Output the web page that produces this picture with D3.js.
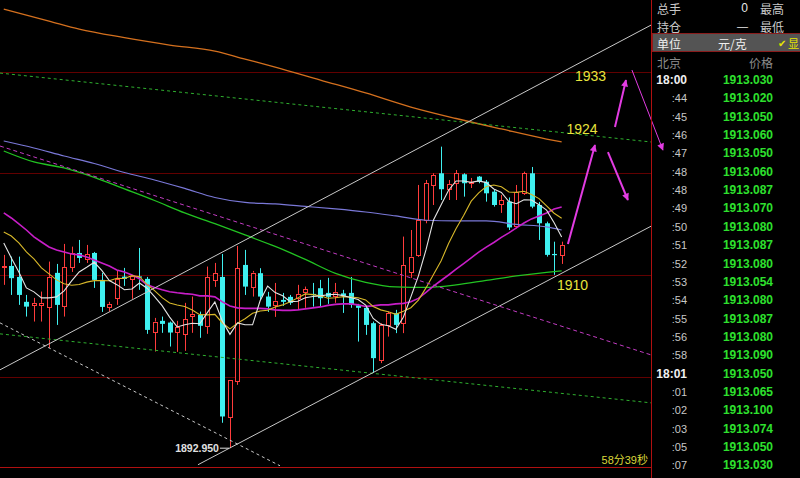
<!DOCTYPE html>
<html><head><meta charset="utf-8">
<script src="https://cdn.jsdelivr.net/npm/d3@7/dist/d3.min.js"></script>
<style>
html,body{margin:0;padding:0;background:#000;overflow:hidden;}
svg{display:block;}
</style></head><body>
<svg id="c" width="800" height="478"></svg>
<script>
// ---------- DATA ----------
const candleOpen = [1910.79,1910.88,1909.80,1907.35,1907.05,1907.05,1906.85,1910.20,1906.95,1910.82,
1912.16,1911.57,1912.16,1909.51,1906.85,1907.74,1909.83,1909.61,1909.85,1909.61,
1904.42,1905.48,1905.31,1904.42,1904.20,1905.97,1906.07,1904.99,1909.51,1909.80,
1896.07,1899.51,1910.98,1908.85,1910.17,1907.87,1907.05,1907.54,1907.84,1907.74,
1908.23,1908.13,1908.69,1908.23,1907.89,1908.18,1908.23,1907.00,1906.76,1905.25,
1901.64,1905.08,1906.23,1905.25,1910.29,1911.97,1915.41,1918.85,1920.00,1918.46,
1919.02,1919.90,1919.05,1919.67,1919.17,1918.19,1916.98,1917.21,1914.75,1918.03,
1920.00,1916.88,1915.08,1912.06,1911.97];
const candleClose = [1910.88,1909.68,1908.03,1906.88,1907.25,1907.25,1909.80,1907.05,1910.79,1912.16,
1911.67,1912.06,1909.51,1906.85,1907.15,1909.61,1909.61,1909.90,1909.75,1904.59,
1905.41,1905.18,1904.33,1904.89,1905.64,1906.17,1904.99,1909.80,1910.20,1896.07,
1899.68,1910.66,1908.85,1910.23,1907.87,1906.88,1907.47,1907.35,1907.25,1908.13,
1908.57,1908.03,1907.71,1907.84,1908.33,1907.94,1907.05,1906.76,1905.08,1901.81,
1905.08,1906.23,1905.08,1910.98,1911.80,1915.41,1919.02,1919.83,1918.43,1918.95,
1920.00,1919.02,1919.14,1919.17,1918.03,1916.88,1917.33,1914.67,1918.11,1920.00,
1916.72,1915.08,1911.97,1911.97,1912.95];
const candleHigh = [1911.97,1911.80,1911.80,1908.03,1907.74,1908.36,1911.31,1911.08,1913.05,1912.78,
1913.44,1912.95,1912.26,1910.20,1907.35,1910.39,1910.69,1910.00,1912.65,1909.80,
1905.77,1905.90,1905.41,1905.48,1907.25,1907.87,1906.39,1910.82,1911.18,1912.06,
1899.68,1912.85,1912.46,1910.39,1910.66,1908.33,1909.21,1908.23,1908.03,1909.02,
1908.85,1909.21,1909.51,1909.71,1909.21,1908.53,1909.80,1907.15,1906.88,1905.41,
1905.25,1906.39,1906.56,1913.77,1914.42,1918.85,1919.34,1920.00,1922.62,1919.34,
1920.32,1920.00,1919.54,1919.73,1919.34,1918.36,1917.87,1917.62,1918.85,1920.16,
1920.62,1917.18,1915.24,1913.27,1913.27];
const candleLow = [1909.02,1908.03,1907.05,1905.90,1905.41,1905.41,1902.82,1905.08,1905.90,1910.29,
1911.18,1911.18,1908.72,1906.36,1906.39,1907.05,1908.92,1907.64,1908.53,1904.20,
1902.46,1904.30,1902.95,1902.43,1902.53,1904.30,1903.81,1904.20,1908.82,1895.45,
1892.95,1899.18,1908.03,1907.87,1907.54,1906.36,1905.87,1906.95,1907.05,1906.56,
1906.76,1906.88,1906.88,1907.15,1907.25,1906.26,1906.76,1903.44,1904.10,1900.36,
1901.32,1903.93,1904.27,1904.27,1909.71,1911.77,1915.08,1916.88,1917.37,1917.37,
1917.37,1917.70,1918.55,1919.02,1917.21,1916.72,1916.10,1914.42,1914.57,1917.87,
1916.56,1913.44,1911.80,1910.00,1911.08];

// moving averages (one value per candle)
const maWhite = [1913.15,1911.67,1910.29,1908.72,1908.33,1907.74,1907.74,1907.84,1908.43,1909.41,
1910.29,1910.75,1911.24,1910.45,1909.45,1909.04,1908.54,1908.62,1909.20,1908.69,
1907.86,1906.97,1905.85,1904.88,1905.09,1905.24,1905.20,1906.29,1907.35,1905.45,
1904.15,1905.28,1905.09,1905.09,1907.45,1908.90,1908.26,1907.95,1907.36,1907.41,
1907.76,1907.87,1907.94,1908.05,1908.09,1907.96,1907.77,1907.58,1907.03,1905.72,
1905.15,1905.00,1904.66,1905.84,1907.84,1909.90,1912.46,1915.41,1916.89,1918.33,
1919.24,1919.24,1919.11,1919.25,1919.08,1918.45,1918.11,1917.22,1917.00,1917.39,
1917.37,1916.91,1916.37,1915.14,1913.74];
const maYellow = [1914.23,1913.83,1913.15,1912.26,1911.57,1910.69,1910.10,1909.51,1909.12,1908.98,
1909.06,1909.29,1909.44,1909.44,1909.43,1909.67,1909.65,1909.93,1909.82,1909.07,
1908.45,1907.76,1907.24,1907.04,1906.89,1906.55,1906.09,1906.07,1906.12,1905.27,
1904.69,1905.24,1905.69,1906.22,1906.45,1906.52,1906.85,1907.05,1907.35,1907.74,
1908.13,1908.06,1907.94,1907.71,1907.75,1907.86,1907.82,1907.76,1907.54,1906.90,
1906.56,1906.38,1906.12,1906.43,1906.77,1907.52,1908.72,1910.03,1911.37,1913.08,
1914.57,1915.85,1917.26,1918.07,1918.70,1918.85,1918.67,1918.16,1918.12,1918.23,
1917.91,1917.51,1916.79,1916.07,1915.57];
const maMagenta = [1916.10,1915.60,1915.01,1914.42,1913.74,1913.24,1912.75,1912.46,1912.26,1912.06,
1911.97,1911.77,1911.47,1911.18,1910.88,1910.49,1910.29,1910.00,1909.61,1909.02,
1908.75,1908.53,1908.34,1908.24,1908.16,1908.10,1907.94,1907.94,1907.84,1907.35,
1906.95,1906.76,1906.71,1906.71,1906.71,1906.66,1906.56,1906.51,1906.51,1906.56,
1906.66,1906.76,1906.85,1907.00,1907.10,1907.15,1907.15,1907.05,1906.90,1906.95,
1907.05,1907.05,1907.15,1907.20,1907.35,1907.69,1908.27,1908.89,1909.45,1909.99,
1910.56,1911.11,1911.68,1912.25,1912.73,1913.19,1913.70,1914.13,1914.62,1915.11,
1915.51,1915.80,1916.10,1916.49,1916.69];
// slow averages, read every few candles
const slowIdx   = [0,4,8,12,16,20,24,28,32,36,40,44,48,52,56,60,64,68,72,74];
const maGreen   = [1922.19,1921.11,1920.52,1919.59,1918.46,1917.32,1916.10,1915.04,1913.93,1912.80,
1911.52,1910.15,1909.27,1908.82,1908.77,1909.02,1909.46,1909.90,1910.25,1910.39];
const maBlue    = [1923.18,1922.49,1921.70,1920.96,1920.08,1919.34,1918.51,1917.62,1917.13,1916.98,
1916.74,1916.49,1916.19,1915.80,1915.38,1915.31,1915.31,1914.97,1914.72,1914.42];
const orangeIdx = [0,6,10,16,22,28,32,36,42,48,54,60,66,72,74];
const maOrange  = [1936.16,1934.98,1934.19,1933.35,1932.62,1932.03,1931.24,1930.45,1929.17,1927.90,
1926.52,1925.39,1924.36,1923.37,1923.08];

const gridPrices = [1900,1910,1920,1930];

// drawn trend lines: [startIndex, startPrice, endIndex, endPrice]
const channelUpper = [-0.5,1900.66,85.85,1934.58];
const channelLower = [25.76,1891.32,85.85,1914.79];
const dashWhite    = [-0.5,1905.28,36.64,1891.22];
const dashMagenta  = [-0.5,1922.68,85.85,1902.13];
const dashGreenUp  = [-0.5,1929.86,85.85,1923.08];
const dashGreenLow = [-0.5,1904.20,85.85,1897.41];

// forecast arrows
const arrowFromIdx   = [74.83,81.07,80.14,83.32];
const arrowFromPrice = [1913.05,1924.55,1922.09,1930.16];
const arrowToIdx     = [78.42,82.53,82.79,87.43];
const arrowToPrice   = [1922.78,1929.17,1917.37,1922.29];
const arrowWidth     = [2,2,2,1];

const annotText  = ["1933","1924","1910"];
const annotIdx   = [77.83,76.70,75.44];
const annotPrice = [1929.62,1924.31,1908.97];
const lowMarkIdx = 30, lowMarkPrice = 1892.95;

const tickTimes  = ["18:00",":44",":45",":46",":47",":48",":48",":49",":50",":51",":52",":53",":54",":55",":56",":58","18:01",":01",":02",":03",":05",":07"];
const tickPrices = [1913.030,1913.020,1913.050,1913.060,1913.050,1913.060,1913.087,1913.070,1913.080,1913.087,1913.080,1913.054,1913.080,1913.087,1913.080,1913.090,1913.050,1913.065,1913.100,1913.074,1913.050,1913.030];

// ---------- DRAW ----------
const W=800,H=478,PW=651,PH=468;
const svg=d3.select('#c');
svg.append('rect').attr('width',W).attr('height',H).attr('fill','#000');
const x=d3.scaleLinear().domain([-0.5,85.85]).range([0,PW]);
const y=d3.scaleLinear().domain([1891.0,1937.05]).range([PH,0]);

const defs=svg.append('defs');
defs.append('clipPath').attr('id','plot').append('rect').attr('x',0).attr('y',0).attr('width',PW).attr('height',PH);
defs.append('marker').attr('id','ah').attr('viewBox','0 0 10 10').attr('refX',9).attr('refY',5)
  .attr('markerWidth',9).attr('markerHeight',7).attr('markerUnits','userSpaceOnUse').attr('orient','auto')
  .append('path').attr('d','M0,0L10,5L0,10Z').attr('fill','#e23ce2');

const plot=svg.append('g').attr('clip-path','url(#plot)');

// grid
plot.selectAll('line.grid').data(gridPrices).enter().append('line')
  .attr('x1',0).attr('x2',PW).attr('y1',d=>Math.round(y(d))+0.5).attr('y2',d=>Math.round(y(d))+0.5)
  .attr('stroke','#620000').attr('stroke-width',1);

// candles
const idx=d3.range(candleOpen.length);
const cg=plot.append('g');
idx.forEach(i=>{
  const o=candleOpen[i],c=candleClose[i],h=candleHigh[i],l=candleLow[i];
  const cx=Math.round(x(i));
  const up=c>=o;
  const top=y(Math.max(o,c)), bot=y(Math.min(o,c));
  const col=up?'#ff3c3c':'#3ff0f0';
  if(up){
    cg.append('line').attr('x1',cx+0.5).attr('x2',cx+0.5).attr('y1',y(h)).attr('y2',top).attr('stroke',col);
    cg.append('line').attr('x1',cx+0.5).attr('x2',cx+0.5).attr('y1',bot).attr('y2',y(l)).attr('stroke',col);
    cg.append('rect').attr('x',cx-1.5).attr('y',Math.round(top)+0.5).attr('width',4)
      .attr('height',Math.max(1,Math.round(bot-top))).attr('fill','#000').attr('stroke',col);
  } else {
    cg.append('line').attr('x1',cx+0.5).attr('x2',cx+0.5).attr('y1',y(h)).attr('y2',y(l)).attr('stroke',col);
    cg.append('rect').attr('x',cx-2).attr('y',top).attr('width',5)
      .attr('height',Math.max(1.2,bot-top)).attr('fill',col);
  }
});

// moving averages
const lineFull=d3.line().x((d,i)=>x(i)).y(d=>y(d));
const lineSparse=d3.line().x(d=>x(d[0])).y(d=>y(d[1])).curve(d3.curveMonotoneX);
plot.append('path').attr('d',lineSparse(orangeIdx.map((k,j)=>[k,maOrange[j]]))).attr('fill','none').attr('stroke','#d4701e').attr('stroke-width',1.3);
plot.append('path').attr('d',lineSparse(slowIdx.map((k,j)=>[k,maBlue[j]]))).attr('fill','none').attr('stroke','#7a78d8').attr('stroke-width',1.2);
plot.append('path').attr('d',lineSparse(slowIdx.map((k,j)=>[k,maGreen[j]]))).attr('fill','none').attr('stroke','#22c322').attr('stroke-width',1.3);
plot.append('path').attr('d',lineFull(maMagenta)).attr('fill','none').attr('stroke','#c81ec8').attr('stroke-width',1.6);
plot.append('path').attr('d',lineFull(maYellow)).attr('fill','none').attr('stroke','#d8b82a').attr('stroke-width',1.1);
plot.append('path').attr('d',lineFull(maWhite)).attr('fill','none').attr('stroke','#e4e4e4').attr('stroke-width',1.1);

// trend lines
function tline(a,col,dash,w){
  plot.append('line').attr('x1',x(a[0])).attr('y1',y(a[1])).attr('x2',x(a[2])).attr('y2',y(a[3]))
    .attr('stroke',col).attr('stroke-width',w||1).attr('stroke-dasharray',dash||null);
}
tline(dashGreenUp,'#2fb02f','3,3');
tline(dashGreenLow,'#2fb02f','3,3');
tline(dashMagenta,'#c23cc2','4,3');
tline(dashWhite,'#c8c8c8','3,3');
tline(channelUpper,'#c8c8c8');
tline(channelLower,'#c8c8c8');

// low marker
svg.append('text').attr('x',x(lowMarkIdx)-11).attr('y',y(lowMarkPrice)).attr('text-anchor','end')
  .attr('dominant-baseline','central').attr('fill','#e0e0e0').attr('font-family','Liberation Sans, Arial')
  .attr('font-weight','bold').attr('font-size',10.5).text('1892.950');
svg.append('line').attr('x1',x(lowMarkIdx)-10).attr('x2',x(lowMarkIdx)-1).attr('y1',y(lowMarkPrice)).attr('y2',y(lowMarkPrice))
  .attr('stroke','#e0e0e0');

// arrows
arrowFromIdx.forEach((d,k)=>{
  svg.append('line').attr('x1',x(d)).attr('y1',y(arrowFromPrice[k])).attr('x2',x(arrowToIdx[k])).attr('y2',y(arrowToPrice[k]))
    .attr('stroke','#e23ce2').attr('stroke-width',arrowWidth[k]).attr('marker-end','url(#ah)');
});

// annotations
annotText.forEach((t,k)=>{
  svg.append('text').attr('x',x(annotIdx[k])).attr('y',y(annotPrice[k])).attr('text-anchor','middle')
    .attr('dominant-baseline','central').attr('fill','#e8e43c').attr('font-family','Liberation Sans, Arial')
    .attr('font-size',14).text(t);
});

// countdown
svg.append('text').attr('x',648).attr('y',460).attr('text-anchor','end').attr('dominant-baseline','central')
  .attr('fill','#dcd83a').attr('font-family','Liberation Sans, Noto Sans CJK SC').attr('font-size',11).text('58分39秒');

// borders
svg.append('line').attr('x1',0).attr('x2',PW).attr('y1',PH-0.5).attr('y2',PH-0.5).attr('stroke','#b01010');
svg.append('line').attr('x1',PW+0.5).attr('x2',PW+0.5).attr('y1',0).attr('y2',H).attr('stroke','#b01010');

// ---------- RIGHT PANEL ----------
const cjk='Noto Sans CJK SC, sans-serif';
function ptext(tx,ty,t,opt){
  const e=svg.append('text').attr('x',tx).attr('y',ty).attr('dominant-baseline','central')
    .attr('font-family',opt.font||cjk).attr('font-size',opt.size||12).attr('fill',opt.fill||'#c8c8c8')
    .attr('text-anchor',opt.anchor||'start').text(t);
  if(opt.bold) e.attr('font-weight','bold');
  return e;
}
ptext(657,8,'总手',{});
ptext(748,8,'0',{anchor:'end',fill:'#e8e8e8',font:'Liberation Sans, Arial'});
ptext(760,8,'最高',{});
ptext(657,26,'持仓',{});
ptext(748,26,'—',{anchor:'end',fill:'#e8e8e8',font:'Liberation Sans, Arial',size:11});
ptext(760,26,'最低',{});
svg.append('rect').attr('x',652.5).attr('y',33.5).attr('width',150).attr('height',18).attr('fill','#545454').attr('stroke','#8a1c1c');
ptext(657,43,'单位',{fill:'#f0f0f0'});
ptext(718,43,'元/克',{fill:'#f0f0f0'});
ptext(778,43,'✔',{fill:'#e6e600',font:'DejaVu Sans',size:10});
ptext(788,43,'显',{fill:'#e6e600',size:11});
ptext(657,62,'北京',{fill:'#8c8c8c'});
ptext(773,62,'价格',{fill:'#8c8c8c',anchor:'end'});

const rowY=d3.scaleLinear().domain([0,tickTimes.length-1]).range([80,465.4]);
tickTimes.forEach((t,k)=>{
  const major=t.length>3;
  ptext(687,rowY(k),t,{anchor:'end',font:'Liberation Sans, Arial',size:major?12:11,bold:major,fill:major?'#f0f0f0':'#c8c8c8'});
  ptext(773,rowY(k),tickPrices[k].toFixed(3),{anchor:'end',font:'Liberation Sans, Arial',size:12,bold:true,fill:'#2ee02e'});
});
</script>
</body></html>
